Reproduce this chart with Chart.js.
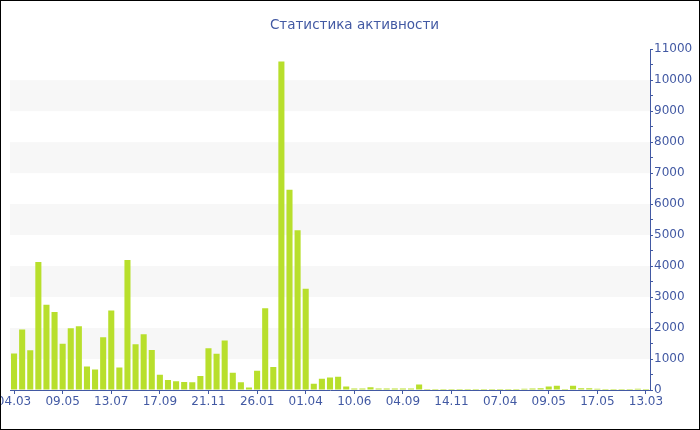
<!DOCTYPE html>
<html>
<head>
<meta charset="utf-8">
<script src="https://cdn.jsdelivr.net/npm/chart.js@4/dist/chart.umd.min.js"></script>
<style>
  body { margin: 0; background: #fff; }
  #wrap { width: 698px; height: 428px; border: 1px solid #000; }
</style>
</head>
<body>
<div id="wrap"><canvas id="activityChart" width="698" height="428"></canvas></div>
<script>
// подписи под осью - каждый 6-й столбец
const tickLabels = ["04.03", "09.05", "13.07", "17.09", "21.11", "26.01", "01.04",
  "10.06", "04.09", "14.11", "07.04", "09.05", "17.05", "13.03"];
const labelStep = 6;

const activity = [
  1180, 1950, 1280, 4130, 2750, 2520, 1490, 1990, 2060, 760,
  660, 1700, 2570, 730, 4200, 1480, 1800, 1290, 490, 320,
  280, 260, 250, 450, 1350, 1170, 1600, 560, 250, 80,
  620, 2640, 740, 10600, 6460, 5160, 3270, 200, 360, 400,
  430, 110, 50, 50, 90, 45, 45, 50, 45, 45,
  180, 35, 35, 35, 35, 35, 30, 30, 30, 30,
  35, 35, 35, 40, 45, 60, 110, 140, 35, 140,
  60, 55, 40, 35, 30, 35, 35, 40, 35
];

const bands = [[1000, 2000], [3000, 4000], [5000, 6000], [7000, 8000], [9000, 10000]];

const categories = activity.map(function (v, i) {
  return i % labelStep === 0 ? tickLabels[i / labelStep] : "";
});

const blue = "#4259a3";
const barColor = "#b8df2c";

// серые полосы на фоне
const bandPlugin = {
  id: "bands",
  beforeDatasetsDraw(chart) {
    const ctx = chart.ctx;
    const area = chart.chartArea;
    const y = chart.scales.y;
    ctx.save();
    ctx.fillStyle = "#f7f7f7";
    bands.forEach(function (b) {
      const top = y.getPixelForValue(b[1]);
      const bottom = y.getPixelForValue(b[0]);
      ctx.fillRect(area.left, top, area.right - area.left, bottom - top);
    });
    ctx.restore();
  }
};

Chart.defaults.font.family = "'DejaVu Sans', Verdana, sans-serif";
Chart.defaults.font.size = 12;
Chart.defaults.color = blue;

new Chart("activityChart", {
  type: "bar",
  data: {
    labels: categories,
    datasets: [{
      data: activity,
      backgroundColor: barColor,
      barPercentage: 0.75,
      categoryPercentage: 1
    }]
  },
  options: {
    responsive: false,
    animation: false,
    layout: { padding: { left: 9, right: 0, top: 0, bottom: 0 } },
    plugins: {
      legend: { display: false },
      tooltip: { enabled: false },
      title: {
        display: true,
        text: "Статистика активности",
        color: blue,
        font: { size: 13.5, weight: "normal" },
        padding: { top: 16, bottom: 16 }
      }
    },
    scales: {
      x: {
        offset: true,
        grid: {
          offset: false,
          drawOnChartArea: false,
          tickLength: 4,
          tickColor: function (c) { return c.index % labelStep === 0 ? blue : "rgba(0,0,0,0)"; }
        },
        border: { color: blue },
        ticks: {
          autoSkip: false,
          maxRotation: 0,
          padding: 1,
          color: blue
        },
        afterFit: function (scale) {
          scale.height = 39;
          scale.paddingLeft = 0;
          scale.paddingRight = 0;
        }
      },
      y: {
        position: "right",
        min: 0,
        max: 11000,
        grid: {
          drawOnChartArea: false,
          tickLength: 3,
          tickColor: blue
        },
        border: { color: blue },
        ticks: {
          stepSize: 500,
          autoSkip: false,
          padding: 1,
          color: blue,
          callback: function (v) { return v % 1000 === 0 ? v : ""; }
        },
        afterFit: function (scale) { scale.width = 49; }
      }
    }
  },
  plugins: [bandPlugin]
});
</script>
</body>
</html>
